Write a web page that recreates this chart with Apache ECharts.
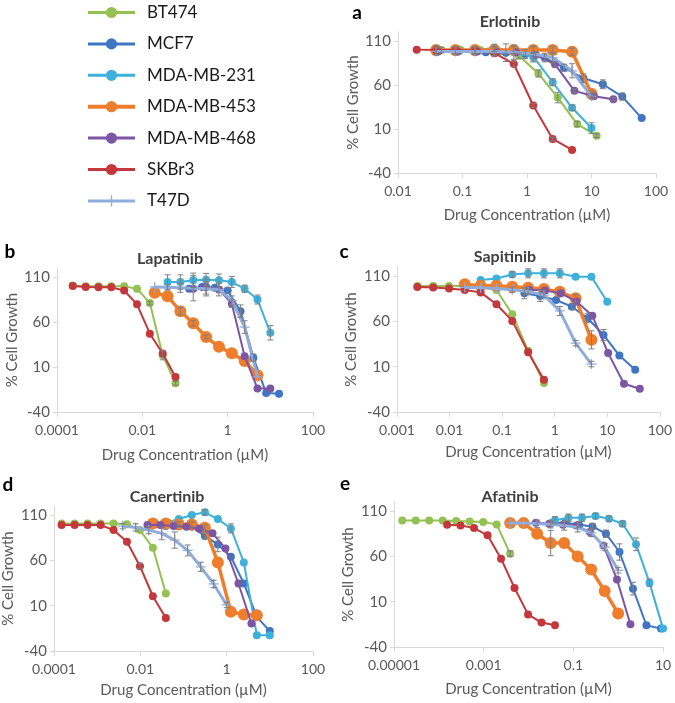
<!DOCTYPE html>
<html><head><meta charset="utf-8">
<script src="https://cdn.jsdelivr.net/npm/echarts@6/dist/echarts.min.js"></script>
<style>html,body{margin:0;padding:0;background:#fff}#c{width:675px;height:703px}</style>
</head><body><div id="c"></div>
<script>
// ---------- categories / legend ----------
const cellLines = ['BT474', 'MCF7', 'MDA-MB-231', 'MDA-MB-453', 'MDA-MB-468', 'SKBr3', 'T47D'];
const drugs = ['Erlotinib', 'Lapatinib', 'Sapitinib', 'Canertinib', 'Afatinib'];
const panelLetters = ['a', 'b', 'c', 'd', 'e'];

// ---------- tick labels ----------
const xTicksA = ['0.01', '0.1', '1', '10', '100'];
const xTicksB = ['0.0001', '0.01', '1', '100'];
const xTicksC = ['0.001', '0.01', '0.1', '1', '10', '100'];
const xTicksD = ['0.0001', '0.01', '1', '100'];
const xTicksE = ['0.00001', '0.001', '0.1', '10'];
const yTicks = ['-40', '10', '60', '110'];

// ---------- a: Erlotinib (concentration, % growth, error) ----------
const aConcBT474 = [0.047, 0.094, 0.1875, 0.375, 0.75, 1.5, 3, 6, 12];
const aBT474 = [99.5, 99.5, 99.5, 98, 93, 73, 45.6, 15.5, 2.3];
const aErrBT474 = [3, 0, 0, 0, 3, 4, 6, 3, 2];
const aConcMCF7 = [0.23, 0.47, 0.94, 1.875, 3.75, 7.5, 15, 30, 60];
const aMCF7 = [97, 96.5, 95, 91, 79.5, 67.5, 60.7, 46.7, 22.3];
const aErrMCF7 = [0, 10, 5, 5, 4, 5, 5, 4, 0];
const aConc231 = [0.039, 0.078, 0.156, 0.3125, 0.625, 1.25, 2.5, 5, 10];
const a231 = [98, 98, 99, 102, 97, 92, 63, 34, 11];
const aErr231 = [0, 0, 0, 4, 0, 5, 4, 3, 6];
const aConc453 = [0.039, 0.078, 0.156, 0.3125, 0.625, 1.25, 2.5, 5, 10];
const a453 = [99.5, 99.5, 99.5, 99.5, 99.5, 99.5, 99.5, 97.6, 50];
const aErr453 = [5, 4, 4, 4, 4, 4, 4, 4, 3];
const aConc468 = [0.042, 0.085, 0.17, 0.34, 0.68, 1.36, 2.72, 5.44, 10.9, 21.8];
const a468 = [98, 98, 98, 97, 97, 94, 83.3, 53.2, 47, 43.8];
const aErr468 = [0, 0, 0, 0, 0, 3, 3, 2, 3, 2];
const aConcSKBr3 = [0.0195, 0.039, 0.078, 0.156, 0.3125, 0.625, 1.25, 2.5, 5];
const aSKBr3 = [100, 99.5, 99.5, 99, 96, 83.7, 36.6, -1.4, -13.8];
const aErrSKBr3 = [0, 0, 0, 0, 0, 3, 2, 2, 0];
const aConcT47D = [0.039, 0.078, 0.156, 0.3125, 0.625, 1.25, 2.5, 5, 10];
const aT47D = [98, 98, 98, 98, 97, 95, 91, 76, 47];
const aErrT47D = [4, 4, 4, 5, 8, 9, 6, 8, 3];

// ---------- b: Lapatinib ----------
const bConcBT474 = [0.000234, 0.00047, 0.00094, 0.001875, 0.00375, 0.0075, 0.015, 0.03, 0.06];
const bBT474 = [100.5, 99.6, 99.6, 99.6, 99.6, 97, 81, 23, -8];
const bErrBT474 = [0, 0, 0, 0, 0, 0, 2, 5, 2];
const bConcMCF7 = [0.125, 0.25, 0.5, 1, 2, 4, 8, 16];
const bMCF7 = [97, 99, 98, 95, 72, 20.4, -19, -19.6];
const bErrMCF7 = [0, 0, 0, 3, 7, 4, 0, 0];
const bConc231 = [0.039, 0.078, 0.156, 0.3125, 0.625, 1.25, 2.5, 5, 10];
const b231 = [104.4, 104.4, 106.3, 107, 106.3, 104.4, 97, 85, 48];
const bErr231 = [8, 8, 8, 7, 7, 6, 4, 5, 8];
const bConc453 = [0.0195, 0.039, 0.078, 0.156, 0.3125, 0.625, 1.25, 2.5, 5];
const b453 = [92.4, 88.5, 72, 58.5, 43.3, 32.5, 25.2, 16.7, 0.8];
const bErr453 = [0, 0, 4, 3, 2, 0, 0, 0, 0];
const bConc468 = [0.156, 0.3125, 0.625, 1.25, 2.5, 5, 10];
const b468 = [97, 99, 96, 80.4, 22, -14, -14];
const bErr468 = [0, 8, 0, 4, 0, 0, 0];
const bConcSKBr3 = [0.000234, 0.00047, 0.00094, 0.001875, 0.00375, 0.0075, 0.015, 0.03, 0.06];
const bSKBr3 = [100, 99, 98.5, 98.5, 95, 79.6, 47, 25, -1];
const bErrSKBr3 = [0, 0, 0, 0, 0, 0, 0, 0, 0];
const bConcT47D = [0.0195, 0.039, 0.078, 0.156, 0.3125, 0.625, 1.25, 2.5, 5];
const bT47D = [99, 98.5, 98, 97.5, 97, 96, 84, 54.4, -1];
const bErrT47D = [0, 3, 5, 14, 8, 7, 5, 7, 0];

// ---------- c: Sapitinib ----------
const cConcBT474 = [0.00244, 0.00488, 0.00977, 0.0195, 0.039, 0.078, 0.156, 0.3125, 0.625];
const cBT474 = [99, 99, 99, 99, 98, 94.6, 67.9, 27.5, -8];
const cErrBT474 = [0, 0, 0, 0, 0, 0, 0, 0, 0];
const cConcMCF7 = [0.265, 0.53, 1.06, 2.12, 4.24, 8.5, 17, 34];
const cMCF7 = [91, 88, 83.6, 76.2, 63.5, 45, 22.3, 6.6];
const cErrMCF7 = [6, 6, 0, 3, 5, 6, 0, 0];
const cConc231 = [0.039, 0.078, 0.156, 0.3125, 0.625, 1.25, 2.5, 5, 10];
const c231 = [105.6, 107.4, 111.8, 113, 113, 113, 109.3, 109.3, 81.7];
const cErr231 = [0, 0, 3, 5, 5, 5, 0, 0, 0];
const cConc453 = [0.0195, 0.039, 0.078, 0.156, 0.3125, 0.625, 1.25, 2.5, 5];
const c453 = [101, 99.3, 99.3, 98.2, 97.1, 95.6, 92.7, 85.4, 39.6];
const cErr453 = [0, 0, 0, 0, 0, 0, 0, 4, 10];
const cConc468 = [0.325, 0.65, 1.3, 2.6, 5.2, 10.4, 20.8, 41.6];
const c468 = [95, 94, 91, 82, 66.3, 25, -8.8, -14.3];
const cErr468 = [0, 0, 0, 0, 0, 0, 0, 0];
const cConcSKBr3 = [0.00244, 0.00488, 0.00977, 0.0195, 0.039, 0.078, 0.156, 0.3125, 0.625];
const cSKBr3 = [98, 97.5, 96.4, 94.6, 92, 78.9, 60.5, 26, -4.4];
const cErrSKBr3 = [0, 0, 0, 0, 0, 0, 0, 0, 0];
const cConcT47D = [0.0195, 0.039, 0.078, 0.156, 0.3125, 0.625, 1.25, 2.5, 5];
const cT47D = [97.5, 97, 96.4, 95, 93, 89, 71.5, 36, 12.9];
const cErrT47D = [0, 0, 0, 3, 3, 3, 5, 3, 3];

// ---------- d: Canertinib ----------
const dConcBT474 = [0.00015, 0.0003, 0.0006, 0.0012, 0.0024, 0.0049, 0.0098, 0.0195, 0.039];
const dBT474 = [100.8, 100.8, 100.8, 100.8, 100.8, 100, 93.4, 73.9, 23.5];
const dErrBT474 = [0, 0, 0, 0, 0, 0, 0, 0, 0];
const dConcMCF7 = [0.039, 0.078, 0.156, 0.3125, 0.625, 1.25, 2.5, 5, 10];
const dMCF7 = [98, 98, 97, 87, 77.6, 64, 34.5, -2.4, -18];
const dErrMCF7 = [0, 0, 0, 3, 8, 0, 0, 0, 0];
const dConc231 = [0.039, 0.078, 0.156, 0.3125, 0.625, 1.25, 2.5, 5, 10];
const d231 = [101.5, 105.6, 110, 113, 105.6, 95.3, 57.7, -22.6, -22.6];
const dErr231 = [0, 0, 0, 3, 0, 5, 0, 0, 0];
const dConc453 = [0.0195, 0.039, 0.078, 0.156, 0.3125, 0.625, 1.25, 2.5, 5];
const d453 = [100.8, 100.8, 99.7, 99.7, 96, 57.7, 3.2, 0.3, -0.5];
const dErr453 = [0, 0, 3, 3, 3, 0, 0, 0, 0];
const dConc468 = [0.0146, 0.029, 0.059, 0.117, 0.234, 0.47, 0.94, 1.875, 3.75];
const d468 = [99, 99, 98, 97, 95, 89.8, 73.2, 34.5, -9.7];
const dErr468 = [0, 0, 0, 0, 0, 0, 0, 0, 0];
const dConcSKBr3 = [0.00015, 0.0003, 0.0006, 0.0012, 0.0024, 0.0049, 0.0098, 0.0195, 0.039];
const dSKBr3 = [99, 99, 99, 99, 93.4, 80.5, 53.6, 20.4, -3.5];
const dErrSKBr3 = [0, 0, 0, 0, 0, 0, 3, 0, 0];
const dConcT47D = [0.0039, 0.0078, 0.0156, 0.03125, 0.0625, 0.125, 0.25, 0.5, 1];
const dT47D = [97.8, 96.4, 93.4, 89.8, 82.4, 71, 52.9, 34, 10.8];
const dErrT47D = [3, 4, 4, 7, 9, 6, 5, 4, 3];

// ---------- e: Afatinib ----------
const eConcBT474 = [0.0000153, 0.0000305, 0.000061, 0.000122, 0.000244, 0.000488, 0.000977, 0.00195, 0.0039];
const eBT474 = [99.7, 99.7, 99.7, 99.7, 99, 98.6, 97.9, 95.3, 63];
const eErrBT474 = [0, 0, 0, 0, 0, 0, 0, 0, 3];
const eConcMCF7 = [0.0334, 0.067, 0.134, 0.267, 0.534, 1.07, 2.14, 4.27, 9];
const eMCF7 = [97, 97, 95, 93, 85, 64.8, 24.4, -16, -19.7];
const eErrMCF7 = [0, 0, 3, 3, 4, 9, 7, 0, 0];
const eConc231 = [0.039, 0.078, 0.156, 0.3125, 0.625, 1.25, 2.5, 5, 10];
const e231 = [100, 102.7, 102.7, 104.5, 101.6, 96, 73.3, 31, -19.7];
const eErr231 = [4, 4, 4, 3, 3, 3, 7, 4, 0];
const eConc453 = [0.0039, 0.0078, 0.0156, 0.03125, 0.0625, 0.125, 0.25, 0.5, 1];
const e453 = [96.8, 96.8, 85, 74.7, 74.7, 60, 45.4, 21.8, -3];
const eErr453 = [0, 0, 0, 14, 0, 0, 0, 0, 0];
const eConc468 = [0.0146, 0.029, 0.059, 0.117, 0.234, 0.47, 0.94, 1.875];
const e468 = [97, 96, 95, 94, 87, 72, 34.4, -15];
const eErr468 = [0, 0, 0, 0, 0, 0, 0, 0];
const eConcSKBr3 = [0.000153, 0.000305, 0.00061, 0.00122, 0.00244, 0.00488, 0.00977, 0.0195, 0.039];
const eSKBr3 = [95, 94.2, 91.3, 83.2, 57.5, 25.1, -4, -13, -16];
const eErrSKBr3 = [0, 0, 0, 0, 0, 0, 0, 0, 0];
const eConcT47D = [0.0039, 0.0078, 0.0156, 0.03125, 0.0625, 0.125, 0.25, 0.5, 1];
const eT47D = [96.8, 96.8, 96, 95.5, 94, 92, 86, 70.3, 44.6];
const eErrT47D = [0, 0, 4, 4, 5, 5, 4, 4, 3];

// ---------- styling (not data) ----------
const colors = ['#93C152', '#3E76C4', '#3DB1D9', '#EE7D2C', '#7C55A4', '#C4373A', '#8FACDC'];
const plusPath = 'path://M0,4.4 H10 V5.6 H0 Z M4.4,0 H5.6 V10 H4.4 Z';
const FONT = 'Lato, "Open Sans", sans-serif';

const panelSeries = [
  [[aConcBT474, aBT474, aErrBT474], [aConcMCF7, aMCF7, aErrMCF7], [aConc231, a231, aErr231], [aConc453, a453, aErr453], [aConc468, a468, aErr468], [aConcSKBr3, aSKBr3, aErrSKBr3], [aConcT47D, aT47D, aErrT47D]],
  [[bConcBT474, bBT474, bErrBT474], [bConcMCF7, bMCF7, bErrMCF7], [bConc231, b231, bErr231], [bConc453, b453, bErr453], [bConc468, b468, bErr468], [bConcSKBr3, bSKBr3, bErrSKBr3], [bConcT47D, bT47D, bErrT47D]],
  [[cConcBT474, cBT474, cErrBT474], [cConcMCF7, cMCF7, cErrMCF7], [cConc231, c231, cErr231], [cConc453, c453, cErr453], [cConc468, c468, cErr468], [cConcSKBr3, cSKBr3, cErrSKBr3], [cConcT47D, cT47D, cErrT47D]],
  [[dConcBT474, dBT474, dErrBT474], [dConcMCF7, dMCF7, dErrMCF7], [dConc231, d231, dErr231], [dConc453, d453, dErr453], [dConc468, d468, dErr468], [dConcSKBr3, dSKBr3, dErrSKBr3], [dConcT47D, dT47D, dErrT47D]],
  [[eConcBT474, eBT474, eErrBT474], [eConcMCF7, eMCF7, eErrMCF7], [eConc231, e231, eErr231], [eConc453, e453, eErr453], [eConc468, e468, eErr468], [eConcSKBr3, eSKBr3, eErrSKBr3], [eConcT47D, eT47D, eErrT47D]]
];
const panelXTicks = [xTicksA, xTicksB, xTicksC, xTicksD, xTicksE];

const layout = [
  { grid: { left: 398, top: 32, width: 258, height: 141 }, yGap: 33, xGap: 35, title: [510, 22], letter: [357, 13] },
  { grid: { left: 57, top: 268, width: 256, height: 144 }, yGap: 37, xGap: 36, title: [170, 259], letter: [10, 252] },
  { grid: { left: 397, top: 267, width: 264, height: 145 }, yGap: 38, xGap: 33, title: [505, 257], letter: [344, 252] },
  { grid: { left: 54, top: 506, width: 259, height: 145 }, yGap: 38, xGap: 32, title: [167, 497], letter: [8, 485] },
  { grid: { left: 394, top: 502, width: 269, height: 145 }, yGap: 38, xGap: 35, title: [510, 497], letter: [345, 484] }
];

const axisGray = '#D9D9D9';
const labelGray = '#595959';
const errGray = '#7F7F7F';

function errorBarSeries(p, triples) {
  const data = [];
  triples.forEach(t => t[0].forEach((c, j) => {
    if (t[2][j] > 0) data.push([c, t[1][j] - t[2][j], t[1][j] + t[2][j]]);
  }));
  return {
    type: 'custom', xAxisIndex: p, yAxisIndex: p, data: data, z: 20, silent: true,
    encode: { x: 0, y: [1, 2] },
    renderItem: function (params, api) {
      const lo = api.coord([api.value(0), api.value(1)]);
      const hi = api.coord([api.value(0), api.value(2)]);
      const w = 3, st = { stroke: errGray, lineWidth: 1 };
      return { type: 'group', children: [
        { type: 'line', shape: { x1: lo[0], y1: lo[1], x2: hi[0], y2: hi[1] }, style: st },
        { type: 'line', shape: { x1: lo[0] - w, y1: lo[1], x2: lo[0] + w, y2: lo[1] }, style: st },
        { type: 'line', shape: { x1: hi[0] - w, y1: hi[1], x2: hi[0] + w, y2: hi[1] }, style: st }
      ] };
    }
  };
}

const grids = [], xAxes = [], yAxes = [], series = [], graphics = [];
layout.forEach((L, p) => {
  grids.push(Object.assign({ containLabel: false }, L.grid));
  const ticks = panelXTicks[p];
  const tickVals = ticks.map(Number);
  xAxes.push({
    type: 'log', logBase: 10, gridIndex: p,
    min: tickVals[0], max: tickVals[tickVals.length - 1],
    name: 'Drug Concentration (\u00B5M)', nameLocation: 'middle', nameGap: L.xGap,
    nameTextStyle: { color: labelGray, fontSize: 15, fontFamily: FONT },
    axisLine: { onZero: false, lineStyle: { color: axisGray, width: 1 } },
    axisTick: { show: true, length: 5, lineStyle: { color: axisGray }, customValues: tickVals },
    axisLabel: {
      color: labelGray, fontSize: 14, fontFamily: FONT, margin: 11, customValues: tickVals,
      formatter: function (v) {
        const l = Math.log10(v);
        for (const t of ticks) { if (Math.abs(Math.log10(Number(t)) - l) < 0.01) return t; }
        return '';
      }
    },
    splitLine: { show: false }, minorTick: { show: false }
  });
  const yVals = yTicks.map(Number);
  yAxes.push({
    type: 'value', gridIndex: p, min: -40, max: 120,
    name: '% Cell Growth', nameLocation: 'middle', nameGap: L.yGap, nameRotate: 90,
    nameTextStyle: { color: labelGray, fontSize: 15, fontFamily: FONT },
    axisLine: { show: true, onZero: false, lineStyle: { color: axisGray, width: 1 } },
    axisTick: { show: true, length: 4, lineStyle: { color: axisGray }, customValues: yVals },
    axisLabel: { color: labelGray, fontSize: 15, fontFamily: FONT, margin: 7, customValues: yVals },
    splitLine: { show: false }
  });
  panelSeries[p].forEach((trip, k) => {
    const conc = trip[0], vals = trip[1];
    const isOrange = k === 3, isT47D = k === 6;
    series.push({
      type: 'line', name: cellLines[k], xAxisIndex: p, yAxisIndex: p,
      data: conc.map((c, j) => [c, vals[j]]),
      symbol: isT47D ? plusPath : 'circle',
      symbolSize: isOrange ? 12 : (isT47D ? 10 : 8),
      lineStyle: { width: isOrange ? 3.5 : (isT47D ? 3 : 2), color: colors[k] },
      itemStyle: { color: colors[k], borderWidth: 0 },
      emphasis: { disabled: true }, z: 2 + k
    });
  });
  series.push(errorBarSeries(p, panelSeries[p]));
  graphics.push({ type: 'text', x: L.title[0], y: L.title[1],
    style: { text: drugs[p], font: 'bold 16px ' + FONT, fill: '#404040', textAlign: 'center', textVerticalAlign: 'middle' } });
  graphics.push({ type: 'text', x: L.letter[0], y: L.letter[1],
    style: { text: panelLetters[p], font: 'bold 19px ' + FONT, fill: '#000', textAlign: 'center', textVerticalAlign: 'middle' } });
});

const chart = echarts.init(document.getElementById('c'), null, { renderer: 'canvas' });
chart.setOption({
  animation: false,
  backgroundColor: '#fff',
  grid: grids, xAxis: xAxes, yAxis: yAxes, series: series,
  graphic: graphics,
  legend: {
    data: cellLines.map((n, k) => ({ name: n, lineStyle: { width: k === 3 ? 4 : 3 } })),
    orient: 'vertical', left: 86, top: 4, padding: 0,
    itemWidth: 47, itemHeight: 14, itemGap: 14.4, selectedMode: false,
    textStyle: { fontSize: 17, color: '#1a1a1a', fontFamily: FONT, padding: [0, 0, 0, 7] }
  }
});
</script></body></html>
